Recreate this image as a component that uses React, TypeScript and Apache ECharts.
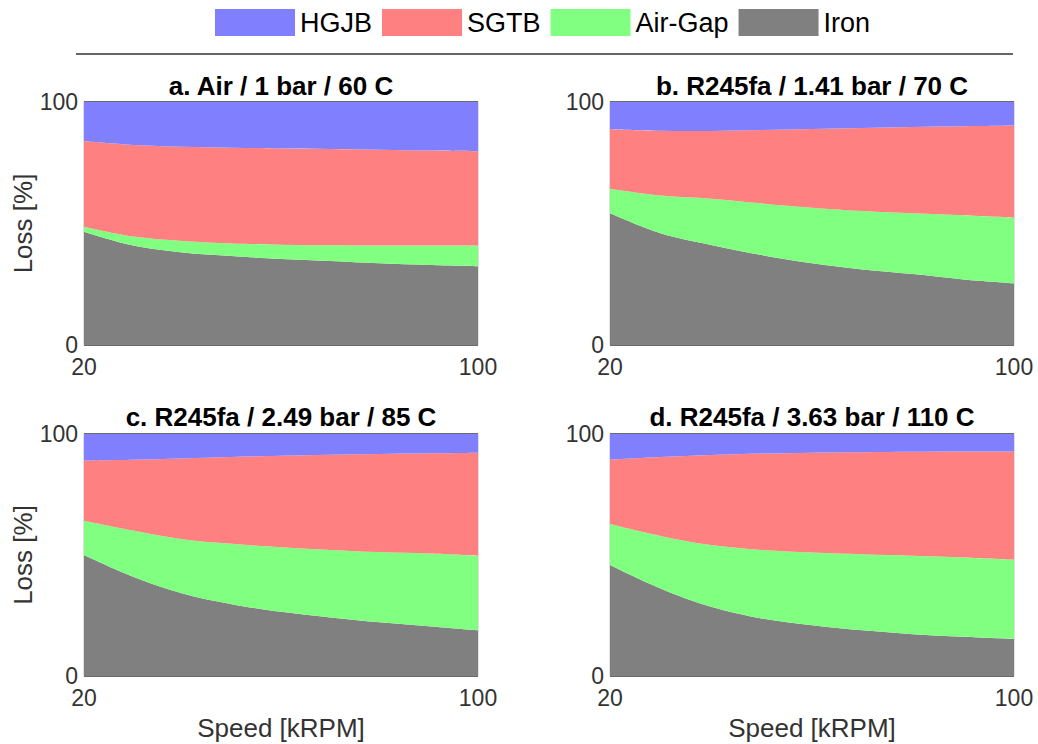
import React, { useEffect, useRef } from "react";
import * as echarts from "echarts";

// Rotor speed samples [kRPM]
const speeds = [20, 30, 40, 50, 60, 70, 80, 90, 100];

// Loss breakdown [%] per operating condition
const ironA = [46.6, 40.9, 38.1, 36.6, 35.4, 34.6, 33.6, 32.9, 32.4];
const airGapA = [2.1, 3.7, 4.7, 5.2, 5.9, 6.4, 7.3, 8.0, 8.5];
const sgtbA = [35.2, 37.7, 38.8, 39.4, 39.6, 39.7, 39.5, 39.1, 38.8];
const hgjbA = [16.1, 17.7, 18.4, 18.8, 19.1, 19.3, 19.6, 20.0, 20.3];

const ironB = [54.2, 46.0, 41.2, 37.0, 33.6, 31.1, 29.2, 27.0, 25.4];
const airGapB = [10.1, 15.5, 19.0, 21.3, 22.9, 24.0, 25.0, 26.4, 27.0];
const sgtbB = [24.5, 26.7, 27.9, 30.2, 32.4, 34.2, 35.5, 36.6, 37.9];
const hgjbB = [11.2, 11.8, 11.9, 11.5, 11.1, 10.7, 10.3, 10.0, 9.7];

const ironC = [50.0, 41.0, 34.1, 29.7, 26.5, 24.2, 22.2, 20.6, 18.9];
const airGapC = [14.2, 19.1, 22.4, 24.9, 26.7, 27.9, 29.0, 30.0, 30.8];
const sgtbC = [24.9, 29.3, 33.4, 35.9, 37.8, 39.3, 40.5, 41.4, 42.6];
const hgjbC = [10.9, 10.6, 10.1, 9.5, 9.0, 8.6, 8.3, 8.0, 7.7];

const ironD = [45.9, 36.2, 28.6, 23.8, 21.0, 18.9, 17.3, 16.2, 15.3];
const airGapD = [16.9, 21.7, 25.5, 28.3, 30.0, 31.4, 32.4, 32.8, 32.8];
const sgtbD = [26.6, 32.6, 37.2, 39.8, 41.3, 42.2, 43.0, 43.8, 44.7];
const hgjbD = [10.6, 9.5, 8.7, 8.1, 7.7, 7.5, 7.3, 7.2, 7.2];

const panelTitles = [
  "a. Air / 1 bar / 60 C",
  "b. R245fa / 1.41 bar / 70 C",
  "c. R245fa / 2.49 bar / 85 C",
  "d. R245fa / 3.63 bar / 110 C",
];

// stacking order: bottom first
const componentNames = ["Iron", "Air-Gap", "SGTB", "HGJB"];
const componentColors = ["#808080", "#80ff80", "#ff8080", "#8080ff"];
const legendOrder = ["HGJB", "SGTB", "Air-Gap", "Iron"];

const panels = [
  [ironA, airGapA, sgtbA, hgjbA],
  [ironB, airGapB, sgtbB, hgjbB],
  [ironC, airGapC, sgtbC, hgjbC],
  [ironD, airGapD, sgtbD, hgjbD],
];

const FONT = "'Liberation Sans', Arial, Helvetica, sans-serif";

const grids = [
  { left: 84, top: 102, width: 394, height: 243 },
  { left: 610, top: 102, width: 404, height: 243 },
  { left: 84, top: 434, width: 394, height: 242 },
  { left: 610, top: 434, width: 404, height: 242 },
];

export default function App() {
  const ref = useRef<HTMLDivElement>(null);

  useEffect(() => {
    if (!ref.current) return;
    const chart = echarts.init(ref.current, undefined, { renderer: "svg" });

    const series: any[] = [];
    panels.forEach((comps, p) => {
      comps.forEach((vals, k) => {
        series.push({
          type: "line",
          name: componentNames[k],
          xAxisIndex: p,
          yAxisIndex: p,
          stack: "loss" + p,
          smooth: 0.35,
          symbol: "none",
          showSymbol: false,
          color: componentColors[k],
          lineStyle: { width: 0 },
          areaStyle: { color: componentColors[k], opacity: 1 },
          data: vals,
        });
      });
    });

    const lastIdx = speeds.length - 1;
    const isEnd = (i: number) => i === 0 || i === lastIdx;

    const xAxes = grids.map((_, p) => ({
      type: "category",
      gridIndex: p,
      data: speeds.map(String),
      boundaryGap: false,
      name: p >= 2 ? "Speed [kRPM]" : "",
      nameLocation: "middle",
      nameGap: 39,
      nameTextStyle: { fontSize: 26, color: "#333", fontFamily: FONT },
      axisLine: { show: false },
      axisTick: { show: false },
      axisLabel: {
        fontSize: 23,
        color: "#333",
        fontFamily: FONT,
        margin: 10,
        interval: (i: number) => isEnd(i),
      },
      splitLine: {
        show: true,
        interval: (i: number) => isEnd(i),
        lineStyle: { color: "#d6d6d6", width: 1.5 },
      },
    }));

    const yAxes = grids.map((_, p) => ({
      type: "value",
      gridIndex: p,
      min: 0,
      max: 100,
      interval: 100,
      z: 3,
      name: p % 2 === 0 ? "Loss [%]" : "",
      nameLocation: "middle",
      nameGap: 48,
      nameTextStyle: { fontSize: 26, color: "#333", fontFamily: FONT },
      axisLine: { show: false },
      axisTick: { show: false },
      axisLabel: {
        fontSize: 23,
        color: "#333",
        fontFamily: FONT,
        margin: 6,
        padding: [7, 0, 0, 0],
      },
      splitLine: {
        show: true,
        lineStyle: { color: "#3a3a3a", width: 1.5 },
      },
    }));

    const titleCenters = [281, 812, 281, 812];
    const titleTops = [73, 73, 404, 404];

    chart.setOption({
      animation: false,
      backgroundColor: "#ffffff",
      textStyle: { fontFamily: FONT },
      title: panelTitles.map((t, p) => ({
        text: t,
        left: titleCenters[p],
        top: titleTops[p],
        textAlign: "center",
        padding: 0,
        textStyle: {
          fontSize: 26,
          fontWeight: "bold",
          color: "#000",
          fontFamily: FONT,
        },
      })),
      legend: {
        data: legendOrder,
        left: 215,
        top: 9,
        padding: 0,
        icon: "rect",
        itemWidth: 80,
        itemHeight: 27,
        itemGap: 10,
        itemStyle: { borderWidth: 0 },
        textStyle: { fontSize: 27, color: "#000", fontFamily: FONT },
      },
      graphic: [
        {
          type: "line",
          shape: { x1: 76, y1: 54, x2: 1013, y2: 54 },
          style: { stroke: "#333", lineWidth: 1.5 },
        },
      ],
      grid: grids,
      xAxis: xAxes,
      yAxis: yAxes,
      series,
    });

    return () => chart.dispose();
  }, []);

  return (
    <div
      ref={ref}
      style={{ position: "absolute", left: 0, top: 0, width: 1038, height: 744 }}
    />
  );
}
